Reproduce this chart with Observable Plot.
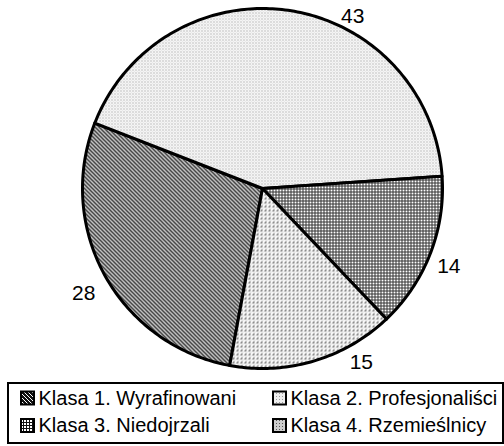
<!DOCTYPE html>
<html><head><meta charset="utf-8">
<script src="https://cdn.jsdelivr.net/npm/d3@7"></script>
<script src="https://cdn.jsdelivr.net/npm/@observablehq/plot@0.6"></script>
<style>body{margin:0;background:#fff;} svg{display:block}</style>
</head><body><div id="chart"></div>
<script>
// ---- data ----
const categories = ["Klasa 1. Wyrafinowani", "Klasa 2. Profesjonaliści", "Klasa 3. Niedojrzali", "Klasa 4. Rzemieślnicy"];
const values = [28, 43, 14, 15];
const valueLabels = ["28", "43", "14", "15"];
const patternIds = ["p1", "p2", "p3", "p4"];

// ---- layout / style ----
const W = 504, H = 446, CX = 262, CY = 188, R = 180, START_DEG = 190.5;
const LABEL_R = 200;
const labelNudge = [[-4, 7], [60, 25], [0, 5], [42, -18]];
const FONT = "Liberation Sans, Arial, Helvetica, sans-serif";
const legendBox = {x1: 8, x2: 503, y1: 383, y2: 443};
const legendColX = [21, 273];
const legendRowY = [398, 425.5];
const SW = 13;

const rad = Math.PI / 180;
const arcs = d3.pie().sort(null).value(d => d)
  .startAngle(START_DEG * rad).endAngle((START_DEG + 360) * rad)(values);

function pt(a, r) { return {x: CX + r * Math.sin(a), y: CY - r * Math.cos(a)}; }

const sliceMarks = arcs.map((a, i) => {
  const pts = [{x: CX, y: CY}];
  const n = Math.max(2, Math.ceil((a.endAngle - a.startAngle) / rad));
  for (let k = 0; k <= n; k++) pts.push(pt(a.startAngle + (a.endAngle - a.startAngle) * k / n, R));
  pts.push({x: CX, y: CY});
  return Plot.line(pts, {x: "x", y: "y", fill: `url(#${patternIds[i]})`, stroke: "black",
    strokeWidth: 3, strokeLinejoin: "round", curve: "linear"});
});

const labelData = arcs.map((a, i) => {
  const m = (a.startAngle + a.endAngle) / 2;
  const p = pt(m, LABEL_R);
  return {x: p.x + labelNudge[i][0], y: p.y + labelNudge[i][1], text: valueLabels[i]};
});

const legendItems = categories.map((c, i) => ({
  label: c, id: patternIds[i],
  x: legendColX[i % 2], y: legendRowY[Math.floor(i / 2)]
}));

const swatchMarks = legendItems.map(d =>
  Plot.rect([d], {x1: d => d.x, x2: d => d.x + SW, y1: d => d.y - SW / 2, y2: d => d.y + SW / 2,
    fill: `url(#${d.id}s)`, stroke: "black", strokeWidth: 2}));

const chart = Plot.plot({
  width: W, height: H,
  marginTop: 0, marginRight: 0, marginBottom: 0, marginLeft: 0,
  x: {domain: [0, W], range: [0, W], axis: null},
  y: {domain: [0, H], range: [0, H], axis: null},
  style: {fontFamily: FONT, background: "#fff", color: "#000"},
  marks: [
    ...sliceMarks,
    Plot.text(labelData, {x: "x", y: "y", text: "text", fontSize: 21, fill: "black"}),
    Plot.rect([legendBox], {x1: "x1", x2: "x2", y1: "y1", y2: "y2", fill: "white", stroke: "black", strokeWidth: 2}),
    ...swatchMarks,
    Plot.text(legendItems, {x: d => d.x + SW + 4, y: "y", text: "label", textAnchor: "start", fontSize: 20, fill: "black"})
  ]
});

// patterns
const defs = d3.select(chart).insert("defs", ":first-child");
function pat(id, size, build) {
  const p = defs.append("pattern").attr("id", id).attr("patternUnits", "userSpaceOnUse")
    .attr("width", size).attr("height", size);
  build(p);
}
// Klasa 1: dense diagonal hatch "\"
pat("p1", 4, p => {
  p.append("rect").attr("width", 4).attr("height", 4).attr("fill", "white");
  p.append("path").attr("d", "M-1,-1L5,5M3,-1L5,1M-1,3L1,5").attr("stroke", "#111").attr("stroke-width", 1.5);
});
// Klasa 2: light dots
pat("p2", 3, p => {
  p.append("rect").attr("width", 3).attr("height", 3).attr("fill", "white");
  p.append("rect").attr("width", 1).attr("height", 1).attr("fill", "#888");
  p.append("rect").attr("x", 1.5).attr("y", 1.5).attr("width", 1).attr("height", 1).attr("fill", "#aaa");
});
// Klasa 3: grid
pat("p3", 3, p => {
  p.append("rect").attr("width", 3).attr("height", 3).attr("fill", "#333");
  p.append("rect").attr("width", 2).attr("height", 2).attr("fill", "white");
});
// Klasa 4: light diagonal dashes
pat("p4", 4, p => {
  p.append("rect").attr("width", 4).attr("height", 4).attr("fill", "white");
  p.append("path").attr("d", "M0,3L2,1").attr("stroke", "#555").attr("stroke-width", 1.1);
  p.append("rect").attr("x", 2).attr("y", 3).attr("width", 1).attr("height", 1).attr("fill", "#bbb");
});
// legend swatch versions (darker)
pat("p1s", 4, p => {
  p.append("rect").attr("width", 4).attr("height", 4).attr("fill", "#111");
  p.append("path").attr("d", "M-1,-1L5,5M3,-1L5,1M-1,3L1,5").attr("stroke", "white").attr("stroke-width", 1);
});
pat("p2s", 3, p => {
  p.append("rect").attr("width", 3).attr("height", 3).attr("fill", "#eee");
  p.append("rect").attr("width", 1).attr("height", 1).attr("fill", "#999");
});
pat("p3s", 3, p => {
  p.append("rect").attr("width", 3).attr("height", 3).attr("fill", "#111");
  p.append("rect").attr("width", 2).attr("height", 2).attr("fill", "white");
});
pat("p4s", 3, p => {
  p.append("rect").attr("width", 3).attr("height", 3).attr("fill", "#ccc");
  p.append("rect").attr("width", 1).attr("height", 1).attr("fill", "#555");
});

document.getElementById("chart").appendChild(chart);
</script>
</body></html>
